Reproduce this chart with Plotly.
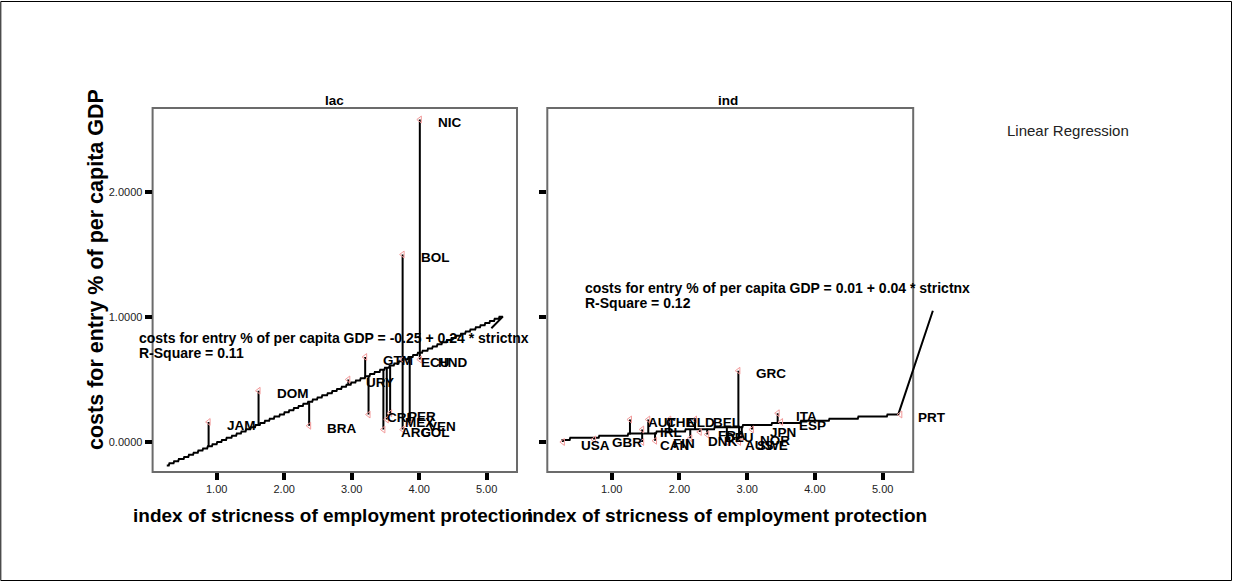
import numpy as np
import plotly.graph_objects as go

W, H = 1233, 583
FONT = "Liberation Sans, Arial, sans-serif"

# ---- data: Latin America & Caribbean (lac) ----
lac_codes = ["NIC", "BOL", "ECU", "HND", "GTM", "URY", "DOM", "JAM",
             "BRA", "CRI", "ARG", "MEX", "PER", "COL", "VEN"]
lac_strict = [4.01, 3.755, 3.755, 4.01, 3.20, 2.95, 1.62, 0.88,
              2.37, 3.25, 3.47, 3.52, 3.57, 3.755, 3.86]
lac_cost = [2.58, 1.50, 0.66, 0.66, 0.68, 0.50, 0.41, 0.16,
            0.13, 0.22, 0.10, 0.18, 0.23, 0.10, 0.15]

# ---- data: industrial countries (ind) ----
ind_codes = ["USA", "GBR", "CAN", "IRL", "AUT", "CHE", "FIN", "NLD", "BEL", "DNK",
             "FRA", "DEU", "AUS", "SWE", "NOR", "JPN", "GRC", "ITA", "ESP", "PRT"]
ind_strict = [0.28, 0.74, 1.45, 1.45, 1.27, 1.54, 1.64, 1.85, 2.23, 2.16,
              2.30, 2.41, 2.70, 2.88, 2.92, 3.07, 2.87, 3.45, 3.50, 5.26]
ind_cost = [0.00, 0.02, 0.00, 0.10, 0.18, 0.18, 0.01, 0.18, 0.18, 0.03,
            0.08, 0.06, 0.00, 0.00, 0.04, 0.10, 0.57, 0.23, 0.16, 0.22]

# ---- fitted regressions ----
lac_b0, lac_b1, lac_r2 = -0.25, 0.24, 0.11
ind_b0, ind_b1, ind_r2 = 0.01, 0.04, 0.12
lac_fit_span = [0.26, 5.24]
ind_fit_span = [0.26, 5.23]
lac_fit_tail = ([5.07], [0.91])
ind_fit_tail = ([5.74], [1.05])

x_ticks = [1, 2, 3, 4, 5]
x_ticktext = ["1.00", "2.00", "3.00", "4.00", "5.00"]
y_ticks = [0, 1, 2]
y_ticktext = ["0.0000", "1.0000", "2.0000"]

# ---- geometry ----
XR = [0.05, 5.85]          # axis range (frame ends at 5.45)
FRAME_X = [0.05, 5.45]
YR = [-0.24, 2.672]
dom_left = [152.6 / W, 544.0 / W]
dom_right = [547.3 / W, 940.3 / W]
dom_y = [1 - 472 / H, 1 - 108 / H]


def to_paper(dom, rng, v):
    return dom[0] + (v - rng[0]) / (rng[1] - rng[0]) * (dom[1] - dom[0])


def fit_line(b0, b1, span, tail, q=0.017):
    xs = np.linspace(span[0], span[1], 500)
    ys = np.round((b0 + b1 * xs) / q) * q
    xs = list(xs) + list(tail[0])
    ys = list(ys) + list(tail[1])
    return xs, ys


def spikes(xv, yv, b0, b1):
    sx, sy = [], []
    for x, y in zip(xv, yv):
        sx += [x, x, None]
        sy += [y, b0 + b1 * x, None]
    return sx, sy


fig = go.Figure()

panels = [
    ("x", "y", lac_strict, lac_cost, lac_codes, lac_b0, lac_b1, lac_fit_span, lac_fit_tail),
    ("x2", "y2", ind_strict, ind_cost, ind_codes, ind_b0, ind_b1, ind_fit_span, ind_fit_tail),
]

annotations = []
for xa, ya, xv, yv, codes, b0, b1, span, tail in panels:
    fx, fy = fit_line(b0, b1, span, tail)
    fig.add_trace(go.Scatter(x=fx, y=fy, mode="lines", xaxis=xa, yaxis=ya,
                             line=dict(color="black", width=2), hoverinfo="skip",
                             showlegend=False))
    sx, sy = spikes(xv, yv, b0, b1)
    fig.add_trace(go.Scatter(x=sx, y=sy, mode="lines", xaxis=xa, yaxis=ya,
                             line=dict(color="black", width=2), hoverinfo="skip",
                             showlegend=False))
    fig.add_trace(go.Scatter(x=xv, y=yv, mode="markers", xaxis=xa, yaxis=ya,
                             marker=dict(symbol="triangle-left-open", size=6,
                                         color="#f29a9a", line=dict(width=1, color="#f29a9a")),
                             cliponaxis=False, showlegend=False))
    for x, y, c in zip(xv, yv, codes):
        annotations.append(dict(x=x, y=y, xref=xa, yref=ya, text=f"<b>{c}</b>",
                                showarrow=False, xanchor="left", yanchor="middle",
                                xshift=16, yshift=-3,
                                font=dict(family=FONT, size=13.5, color="black")))


def paper_text(px, py, text, size, bold=False, xanchor="left", angle=0, color="black"):
    t = f"<b>{text}</b>" if bold else text
    return dict(x=px / W, y=1 - py / H, xref="paper", yref="paper", text=t,
                showarrow=False, xanchor=xanchor, yanchor="middle", textangle=angle,
                font=dict(family=FONT, size=size, color=color))


annotations += [
    paper_text(334, 100, "lac", 13.5, bold=True, xanchor="center"),
    paper_text(728.3, 100, "ind", 13.5, bold=True, xanchor="center"),
    paper_text(137, 337.7,
               f"costs for entry % of per capita GDP = {lac_b0:.2f} + {lac_b1:.2f} * strictnx",
               14, bold=True),
    paper_text(137, 353.3, f"R-Square = {lac_r2:.2f}", 14, bold=True),
    paper_text(583, 287.7,
               f"costs for entry % of per capita GDP = {ind_b0:.2f} + {ind_b1:.2f} * strictnx",
               14, bold=True),
    paper_text(583, 303.3, f"R-Square = {ind_r2:.2f}", 14, bold=True),
    paper_text(333, 515, "index of stricness of employment protection", 19, bold=True,
               xanchor="center"),
    paper_text(727, 515, "index of stricness of employment protection", 19, bold=True,
               xanchor="center"),
    paper_text(96, 270, "costs for entry % of per capita GDP", 21.5, bold=True,
               xanchor="center", angle=-90),
    paper_text(1005, 130, "Linear Regression", 15, color="#222"),
]

shapes = []
for dom in (dom_left, dom_right):
    shapes.append(dict(type="rect", xref="paper", yref="paper",
                       x0=to_paper(dom, XR, FRAME_X[0]), x1=to_paper(dom, XR, FRAME_X[1]),
                       y0=dom_y[0], y1=dom_y[1],
                       line=dict(color="#6b6b6b", width=2), layer="below"))
shapes.append(dict(type="rect", xref="paper", yref="paper",
                   x0=0.8 / W, x1=1 - 1.5 / W, y0=2.5 / H, y1=1 - 1.5 / H,
                   line=dict(color="black", width=1)))

tickfont = dict(family=FONT, size=11, color="#222")
xcommon = dict(range=XR, tickmode="array", tickvals=x_ticks, ticktext=x_ticktext,
               ticks="outside", ticklen=7, tickwidth=3.5, tickcolor="black",
               showline=False, showgrid=False, zeroline=False, tickfont=tickfont,
               fixedrange=True)
ycommon = dict(range=YR, domain=dom_y, tickmode="array", tickvals=y_ticks,
               ticktext=y_ticktext, ticks="outside", ticklen=7, tickwidth=3.5,
               tickcolor="black", showline=False, showgrid=False, zeroline=False,
               tickfont=tickfont, fixedrange=True)

fig.update_layout(
    width=W, height=H,
    margin=dict(l=0, r=0, t=0, b=0),
    paper_bgcolor="white", plot_bgcolor="rgba(0,0,0,0)",
    showlegend=False,
    xaxis=dict(domain=dom_left, anchor="y", **xcommon),
    xaxis2=dict(domain=dom_right, anchor="y2", **xcommon),
    yaxis=dict(anchor="x", **ycommon),
    yaxis2=dict(anchor="x2", showticklabels=False, **ycommon),
    annotations=annotations,
    shapes=shapes,
)

fig.write_html("out.html")
